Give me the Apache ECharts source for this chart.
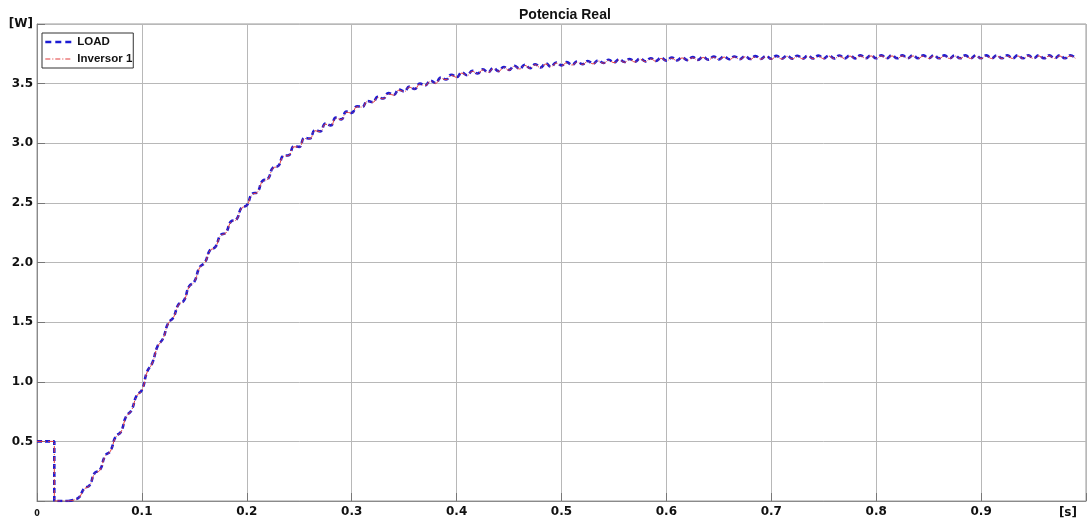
<!DOCTYPE html>
<html>
<head>
<meta charset="utf-8">
<script src="https://cdn.jsdelivr.net/npm/echarts@6/dist/echarts.min.js"></script>
<style>
html,body{margin:0;padding:0;background:#fff;}
#chart{width:1089px;height:522px;}
</style>
</head>
<body>
<div id="chart"></div>
<script>
// ---- Data ----
const TITLE = 'Potencia Real';
const SERIES_NAMES = ['LOAD', 'Inversor 1'];
const X_TICKS = [0, 0.1, 0.2, 0.3, 0.4, 0.5, 0.6, 0.7, 0.8, 0.9];
const Y_TICKS = [0.5, 1.0, 1.5, 2.0, 2.5, 3.0, 3.5];
const X_UNIT = '[s]';
const Y_UNIT = '[W]';

// initial step (time, value)
const STEP_T = [0, 0.0165, 0.0165, 0.03];
const STEP_V = [0.5, 0.5, 0, 0];

// sampled response starting at RESP_T0 with spacing RESP_DT
const RESP_T0 = 0.03;
const RESP_DT = 0.005;
const LOAD_V = [
0, 0.01, 0.03, 0.105, 0.13, 0.235, 0.26, 0.38, 0.42, 0.54,
0.58, 0.71, 0.76, 0.885, 0.93, 1.085, 1.16, 1.30, 1.36, 1.49,
1.54, 1.65, 1.68, 1.80, 1.84, 1.96, 2.00, 2.105, 2.13, 2.23,
2.25, 2.345, 2.36, 2.46, 2.48, 2.575, 2.59, 2.685, 2.70, 2.795,
2.81, 2.895, 2.90, 2.975, 2.97, 3.045, 3.04, 3.11, 3.10, 3.165,
3.15, 3.215, 3.20, 3.265, 3.255, 3.31, 3.305, 3.355, 3.345, 3.39,
3.375, 3.42, 3.405, 3.45, 3.435, 3.475, 3.455, 3.50, 3.485, 3.525,
3.505, 3.55, 3.535, 3.575, 3.555, 3.593, 3.57, 3.608, 3.585, 3.62,
3.595, 3.63, 3.605, 3.64, 3.615, 3.65, 3.625, 3.658, 3.63, 3.663,
3.635, 3.669, 3.643, 3.677, 3.653, 3.68, 3.658, 3.685, 3.663, 3.69,
3.668, 3.695, 3.673, 3.70, 3.678, 3.704, 3.681, 3.707, 3.684, 3.71,
3.687, 3.713, 3.69, 3.716, 3.693, 3.718, 3.695, 3.72, 3.697, 3.722,
3.699, 3.724, 3.701, 3.726, 3.703, 3.727, 3.704, 3.728, 3.705, 3.73,
3.706, 3.731, 3.707, 3.732, 3.708, 3.733, 3.709, 3.734, 3.71, 3.734,
3.71, 3.735, 3.711, 3.735, 3.711, 3.736, 3.712, 3.736, 3.712, 3.736,
3.712, 3.737, 3.713, 3.737, 3.713, 3.737, 3.713, 3.737, 3.713, 3.737,
3.713, 3.737, 3.713, 3.737, 3.713, 3.737, 3.713, 3.737, 3.713, 3.737,
3.713, 3.737, 3.713, 3.737, 3.713, 3.737, 3.713, 3.737, 3.713, 3.737,
3.713, 3.737, 3.713, 3.737, 3.713, 3.737, 3.713, 3.737, 3.713, 3.737,
3.713, 3.737, 3.713
];
const INVERSOR_V = [
0, 0.008, 0.028, 0.1, 0.128, 0.23, 0.258, 0.375, 0.418, 0.535,
0.578, 0.705, 0.758, 0.88, 0.928, 1.08, 1.158, 1.295, 1.358, 1.485,
1.538, 1.645, 1.678, 1.795, 1.838, 1.955, 1.998, 2.10, 2.128, 2.225,
2.248, 2.34, 2.358, 2.455, 2.478, 2.57, 2.588, 2.68, 2.698, 2.79,
2.808, 2.89, 2.898, 2.97, 2.968, 3.04, 3.038, 3.105, 3.098, 3.16,
3.148, 3.21, 3.198, 3.26, 3.253, 3.305, 3.303, 3.35, 3.343, 3.385,
3.373, 3.415, 3.403, 3.445, 3.433, 3.47, 3.453, 3.495, 3.483, 3.52,
3.503, 3.545, 3.533, 3.57, 3.553, 3.588, 3.568, 3.603, 3.583, 3.615,
3.593, 3.625, 3.603, 3.635, 3.613, 3.645, 3.623, 3.653, 3.628, 3.658,
3.633, 3.664, 3.641, 3.672, 3.651, 3.675, 3.656, 3.68, 3.661, 3.685,
3.666, 3.69, 3.671, 3.695, 3.676, 3.699, 3.679, 3.702, 3.682, 3.705,
3.685, 3.708, 3.688, 3.711, 3.691, 3.713, 3.693, 3.715, 3.695, 3.717,
3.697, 3.719, 3.699, 3.721, 3.701, 3.722, 3.702, 3.723, 3.703, 3.725,
3.704, 3.726, 3.705, 3.727, 3.706, 3.728, 3.707, 3.729, 3.708, 3.729,
3.708, 3.73, 3.709, 3.73, 3.709, 3.731, 3.71, 3.731, 3.71, 3.731,
3.71, 3.732, 3.711, 3.732, 3.711, 3.732, 3.711, 3.732, 3.711, 3.732,
3.711, 3.732, 3.711, 3.732, 3.711, 3.732, 3.711, 3.732, 3.711, 3.732,
3.711, 3.732, 3.711, 3.732, 3.711, 3.732, 3.711, 3.732, 3.711, 3.732,
3.711, 3.732, 3.711, 3.732, 3.711, 3.732, 3.711, 3.732, 3.711, 3.732,
3.711, 3.732, 3.711
];

// ---- Build ----
function pairs(tArr, vArr){ return vArr.map((v,i)=>[tArr[i], v]); }
function respPairs(vArr){ return vArr.map((v,i)=>[+(RESP_T0 + i*RESP_DT).toFixed(4), v]); }

const BLUE = '#1c1cd2';
const RED = '#e23a3a';
const blueLine = {color: BLUE, width: 2.6, type: [5, 3]};
const redLine = {color: RED, width: 1, type: [6, 2, 1, 2]};

const chart = echarts.init(document.getElementById('chart'), null, {renderer: 'canvas'});
const labelFont = 'DejaVu Sans';
chart.setOption({
  animation: false,
  backgroundColor: '#ffffff',
  title: {
    text: TITLE, left: 514, top: 3,
    textStyle: {fontFamily: 'Liberation Sans', fontWeight: 'bold', fontSize: 14, color: '#111'}
  },
  legend: {
    show: true,
    orient: 'vertical', left: 42, top: 33,
    backgroundColor: '#fff', borderColor: '#333', borderWidth: 1, borderRadius: 0,
    padding: [2, 1, 2, 2], itemGap: 3, itemWidth: 27, itemHeight: 14,
    itemStyle: {opacity: 0, borderWidth: 0},
    textStyle: {fontFamily: 'Liberation Sans', fontWeight: 'bold', fontSize: 11.5, color: '#111', lineHeight: 14},
    data: [
      {name: SERIES_NAMES[0], lineStyle: {color: BLUE, width: 2.6, type: [6, 4]}},
      {name: SERIES_NAMES[1], lineStyle: {color: RED, width: 1.2, type: [5, 2, 1, 2]}}
    ]
  },
  grid: {left: 37, right: -2, top: 24, bottom: 21, show: true, borderColor: '#9a9a9a', borderWidth: 1, containLabel: false},
  xAxis: {
    type: 'value', min: 0, max: 1, interval: 0.1,
    axisLine: {show: true, lineStyle: {color: '#8a8a8a'}},
    axisTick: {show: true, inside: true, length: 8, lineStyle: {color: '#777'}},
    splitLine: {show: true, lineStyle: {color: '#b8b8b8', width: 1}},
    axisLabel: {
      margin: 5,
      fontFamily: labelFont, fontWeight: 'bold', fontSize: 12, color: '#111',
      formatter: function(v){
        if (Math.abs(v) < 1e-9) return '{s|0}';
        const hit = X_TICKS.find(t => Math.abs(t - v) < 1e-6);
        return hit !== undefined ? hit.toFixed(1) : '';
      },
      rich: {s: {fontFamily: labelFont, fontWeight: 'bold', fontSize: 8, color: '#111', padding: [4,0,0,0]}}
    }
  },
  yAxis: {
    type: 'value', min: 0, max: 4, interval: 0.5,
    axisLine: {show: true, lineStyle: {color: '#8a8a8a'}},
    axisTick: {show: true, inside: true, length: 8, lineStyle: {color: '#777'}},
    splitLine: {show: true, lineStyle: {color: '#b8b8b8', width: 1}},
    axisLabel: {
      margin: 4,
      fontFamily: labelFont, fontWeight: 'bold', fontSize: 12, color: '#111',
      formatter: function(v){
        if (Math.abs(v - 4) < 1e-9) return Y_UNIT;
        const hit = Y_TICKS.find(t => Math.abs(t - v) < 1e-6);
        return hit !== undefined ? hit.toFixed(1) : '';
      }
    }
  },
  graphic: [{
    type: 'text', right: 12, bottom: 3,
    style: {text: X_UNIT, font: 'bold 12px "DejaVu Sans"', fill: '#111'}
  }],
  series: [
    {name: SERIES_NAMES[0], type: 'line', data: pairs(STEP_T, STEP_V), showSymbol: false, symbol: 'none', lineStyle: blueLine, color: BLUE, z: 2},
    {name: SERIES_NAMES[0], type: 'line', data: respPairs(LOAD_V), showSymbol: false, symbol: 'none', smooth: 0.5, lineStyle: blueLine, color: BLUE, z: 2},
    {name: SERIES_NAMES[1], type: 'line', data: pairs(STEP_T, STEP_V), showSymbol: false, symbol: 'none', lineStyle: redLine, color: RED, z: 3},
    {name: SERIES_NAMES[1], type: 'line', data: respPairs(INVERSOR_V), showSymbol: false, symbol: 'none', smooth: 0.5, lineStyle: redLine, color: RED, z: 3}
  ]
});
</script>
</body>
</html>
